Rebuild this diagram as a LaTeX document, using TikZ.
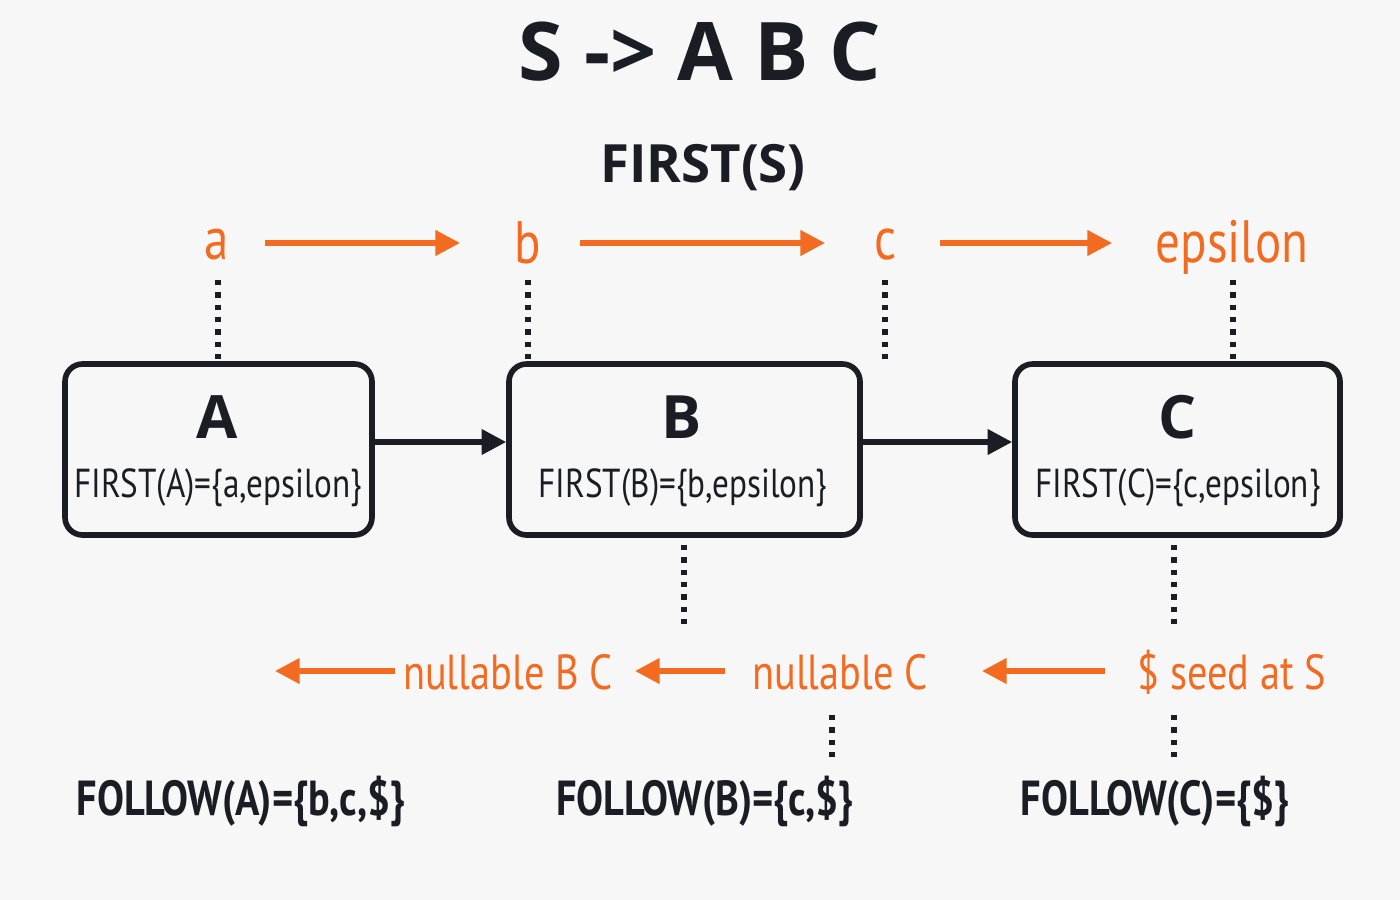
\documentclass[tikz,border=0pt]{standalone}
\usepackage{fontspec}
\setmainfont{PT Sans}[FakeStretch=0.82]
\newfontfamily\ttl{Open Sans}
\usetikzlibrary{arrows.meta}
\definecolor{org}{HTML}{F26B21}
\definecolor{ink}{HTML}{1A1E24}
\begin{document}
\begin{tikzpicture}[x=0.01cm,y=-0.01cm,
  box/.style={draw=ink,line width=1.6pt,rounded corners=5pt,minimum width=#1,minimum height=171*0.01cm,inner sep=0pt},
  olab/.style={text=org,font=\fontsize{17}{19}\selectfont},
  blab/.style={text=org,font=\fontsize{14}{16}\selectfont},
  oarr/.style={draw=org,line width=1.5pt,-{Triangle[length=7pt,width=7pt]}},
  karr/.style={draw=ink,line width=1.5pt,-{Triangle[length=7pt,width=7pt]}},
  dot/.style={draw=ink,line width=1.5pt,dash pattern=on 1.5pt off 2pt},
  ftx/.style={text=ink,font=\fontsize{11.5}{14}\selectfont},
  flw/.style={text=ink,font=\fontsize{14}{16}\selectfont\bfseries}]
\fill[white!97!black] (0,0) rectangle (1400,900);
\useasboundingbox (0,0) rectangle (1400,900);
\node[text=ink,font=\ttl\fontsize{23}{26}\selectfont\bfseries] (title) at (700,52) {S -> A B C};
\node[text=ink,font=\ttl\fontsize{15}{18}\selectfont\bfseries] (fs) at (703,168) {FIRST(S)};
% top orange row
\node[olab] (a) at (217,245) {a};
\node[olab] (b) at (528,243) {b};
\node[olab] (c) at (886,245) {c};
\node[olab] (eps) at (1232,247) {epsilon};
\coordinate (a1) at (265,243); \coordinate (a2) at (460,243);
\coordinate (b1) at (580,243); \coordinate (b2) at (825,243);
\coordinate (c1) at (940,243); \coordinate (c2) at (1112,243);
\draw[oarr] (a1) -- (a2);
\draw[oarr] (b1) -- (b2);
\draw[oarr] (c1) -- (c2);
% boxes
\node[box=307*0.01cm] (A) at (218.5,449.5) {};
\node[box=351*0.01cm] (B) at (684.5,449.5) {};
\node[box=325*0.01cm] (C) at (1177.5,449.5) {};
\node[text=ink,font=\ttl\fontsize{17}{20}\selectfont\bfseries] (At) at (217,417) {A};
\node[text=ink,font=\ttl\fontsize{17}{20}\selectfont\bfseries] (Bt) at (682,417) {B};
\node[text=ink,font=\ttl\fontsize{17}{20}\selectfont\bfseries] (Ct) at (1178,417) {C};
\node[ftx] (Af) at (218,488) {FIRST(A)=\{a,epsilon\}};
\node[ftx] (Bf) at (683,488) {FIRST(B)=\{b,epsilon\}};
\node[ftx] (Cf) at (1178,488) {FIRST(C)=\{c,epsilon\}};
\draw[karr] (A.east|-0,442) -- (B.west|-0,442);
\draw[karr] (B.east|-0,442) -- (C.west|-0,442);
% dotted top
\coordinate (da) at (218,360); \coordinate (db) at (528,360); \coordinate (dc) at (885,360); \coordinate (de) at (1233,360);
\draw[dot] (218,280) -- (da);
\draw[dot] (528,280) -- (db);
\draw[dot] (885,280) -- (dc);
\draw[dot] (1233,280) -- (de);
% dotted below boxes
\coordinate (db2) at (684,630); \coordinate (dc2) at (1174,630);
\draw[dot] (684,545) -- (db2);
\draw[dot] (1174,545) -- (dc2);
% bottom orange
\node[blab] (nbc) at (508,672) {nullable B C};
\node[blab] (nc) at (840,672) {nullable C};
\node[blab] (seed) at (1232,672) {\$ seed at S};
\coordinate (p1) at (395,671); \coordinate (p2) at (275,671);
\coordinate (q1) at (725,671); \coordinate (q2) at (635,671);
\coordinate (r1) at (1105,671); \coordinate (r2) at (982,671);
\draw[oarr] (p1) -- (p2);
\draw[oarr] (q1) -- (q2);
\draw[oarr] (r1) -- (r2);
\draw[dot] (832,715) -- (832,757);
\draw[dot] (1174,715) -- (1174,757);
% follow
\node[flw] (fa) at (241,801) {FOLLOW(A)=\{b,c,\$\}};
\node[flw] (fb) at (705,801) {FOLLOW(B)=\{c,\$\}};
\node[flw] (fc) at (1155,801) {FOLLOW(C)=\{\$\}};
\end{tikzpicture}
\end{document}
